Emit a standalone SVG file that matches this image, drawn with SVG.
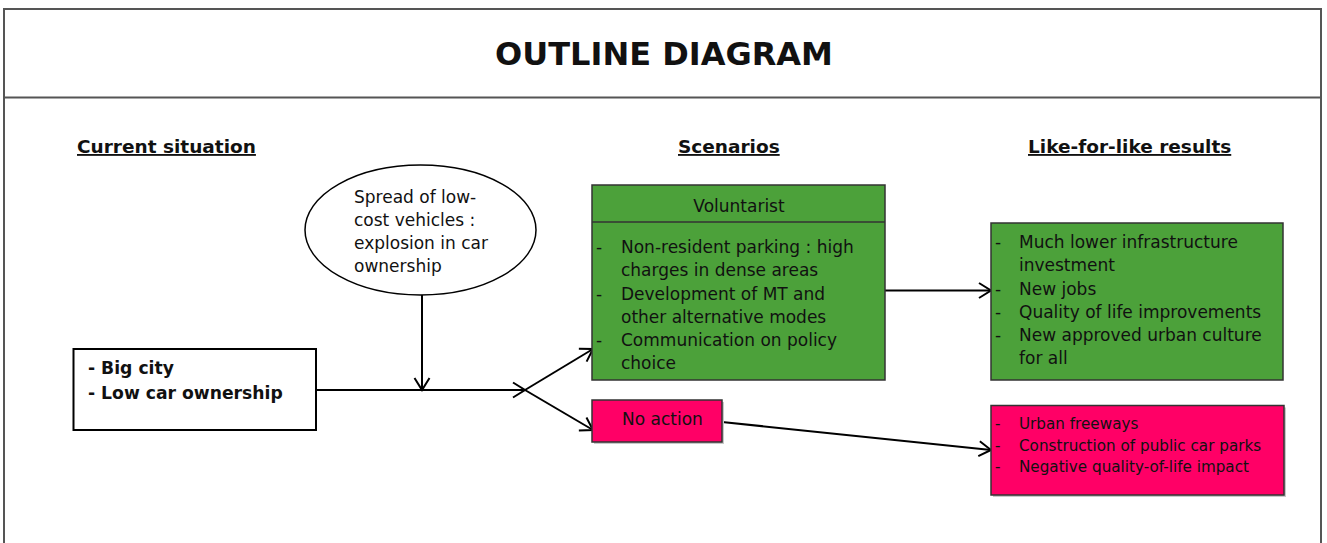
<svg xmlns="http://www.w3.org/2000/svg" width="1327" height="543" viewBox="0 0 1327 543">
  <style>
    text { font-family: "DejaVu Sans", "Liberation Sans", sans-serif; fill: #111; }
    .title { font-size: 32px; font-weight: bold; text-anchor: middle; }
    .head { font-size: 18.5px; font-weight: bold; text-decoration: underline; }
    .frame { fill: none; stroke: #555; stroke-width: 2; }
    .box { stroke: #333; stroke-width: 1.5; }
    .green { fill: #4ca13a; }
    .red { fill: #ff0066; }
    .shadow { fill: #c8c8c8; }
    .t17 { font-size: 17px; }
    .t15 { font-size: 15.2px; }
    .bold { font-size: 17.2px; font-weight: bold; }
    .conn { fill: none; stroke: #000; stroke-width: 2; }
  </style>
  <defs>
    <marker id="arrow" markerUnits="userSpaceOnUse" markerWidth="16" markerHeight="18" refX="13" refY="8" orient="auto" overflow="visible">
      <path d="M1,0.5 L13,8 L1,15.5" fill="none" stroke="#000" stroke-width="2"/>
    </marker>
  </defs>

  <rect width="1327" height="543" fill="#fff"/>

  <!-- page frame and title band -->
  <g id="frame">
    <path class="frame" d="M4,543 V9 H1321 V543"/>
    <line class="frame" x1="4" y1="97.5" x2="1321" y2="97.5"/>
    <text class="title" x="664" y="65">OUTLINE DIAGRAM</text>
  </g>

  <!-- column headings -->
  <g id="headings">
    <text class="head" x="77" y="153">Current situation</text>
    <text class="head" x="678" y="153">Scenarios</text>
    <text class="head" x="1028" y="153">Like-for-like results</text>
  </g>

  <!-- connectors -->
  <g id="connectors">
    <line class="conn" x1="422" y1="295" x2="422" y2="390" marker-end="url(#arrow)"/>
    <line class="conn" x1="316" y1="390" x2="525" y2="390" marker-end="url(#arrow)"/>
    <line class="conn" x1="525" y1="390" x2="593" y2="349" marker-end="url(#arrow)"/>
    <line class="conn" x1="525" y1="390" x2="593" y2="430" marker-end="url(#arrow)"/>
    <line class="conn" x1="885" y1="290.5" x2="991" y2="290.5" marker-end="url(#arrow)"/>
    <line class="conn" x1="722" y1="422" x2="991" y2="450" marker-end="url(#arrow)"/>
  </g>

  <g id="current">
    <rect x="73.5" y="349" width="242.5" height="81" fill="#fff" stroke="#000" stroke-width="2"/>
    <text class="bold" x="88" y="374">- Big city</text>
    <text class="bold" x="88" y="399">- Low car ownership</text>
  </g>

  <g id="spread">
    <ellipse cx="420.5" cy="230" rx="115.5" ry="65" fill="#fff" stroke="#000" stroke-width="1.5"/>
    <text class="t17" x="354" y="203">Spread of low-</text>
    <text class="t17" x="354" y="226">cost vehicles :</text>
    <text class="t17" x="354" y="249">explosion in car</text>
    <text class="t17" x="354" y="272">ownership</text>
  </g>

  <g id="voluntarist">
    <rect class="box green" x="592" y="185" width="293" height="195"/>
    <line class="box" x1="592" y1="222" x2="885" y2="222"/>
    <text class="t17" x="739" y="212" text-anchor="middle">Voluntarist</text>
    <text class="t17" x="596" y="253">-</text>
    <text class="t17" x="621" y="253">Non-resident parking : high</text>
    <text class="t17" x="621" y="276">charges in dense areas</text>
    <text class="t17" x="596" y="300">-</text>
    <text class="t17" x="621" y="300">Development of MT and</text>
    <text class="t17" x="621" y="323">other alternative modes</text>
    <text class="t17" x="596" y="346">-</text>
    <text class="t17" x="621" y="346">Communication on policy</text>
    <text class="t17" x="621" y="369">choice</text>
  </g>

  <g id="no-action">
    <rect class="shadow" x="594" y="402" width="130" height="42"/>
    <rect class="box red" x="592" y="400" width="130" height="42"/>
    <text class="t17" x="622" y="425">No action</text>
  </g>

  <g id="results-voluntarist">
    <rect class="box green" x="991" y="223" width="292" height="157"/>
    <text class="t17" x="995" y="248">-</text>
    <text class="t17" x="1019" y="248">Much lower infrastructure</text>
    <text class="t17" x="1019" y="271">investment</text>
    <text class="t17" x="995" y="295">-</text>
    <text class="t17" x="1019" y="295">New jobs</text>
    <text class="t17" x="995" y="318">-</text>
    <text class="t17" x="1019" y="318">Quality of life improvements</text>
    <text class="t17" x="995" y="341">-</text>
    <text class="t17" x="1019" y="341">New approved urban culture</text>
    <text class="t17" x="1019" y="364">for all</text>
  </g>

  <g id="results-no-action">
    <rect class="shadow" x="993" y="407.5" width="293" height="89.5"/>
    <rect class="box red" x="991" y="405.5" width="293" height="89.5"/>
    <text class="t15" x="995" y="429">-</text>
    <text class="t15" x="1019" y="429">Urban freeways</text>
    <text class="t15" x="995" y="450.5">-</text>
    <text class="t15" x="1019" y="450.5">Construction of public car parks</text>
    <text class="t15" x="995" y="472">-</text>
    <text class="t15" x="1019" y="472">Negative quality-of-life impact</text>
  </g>
</svg>
